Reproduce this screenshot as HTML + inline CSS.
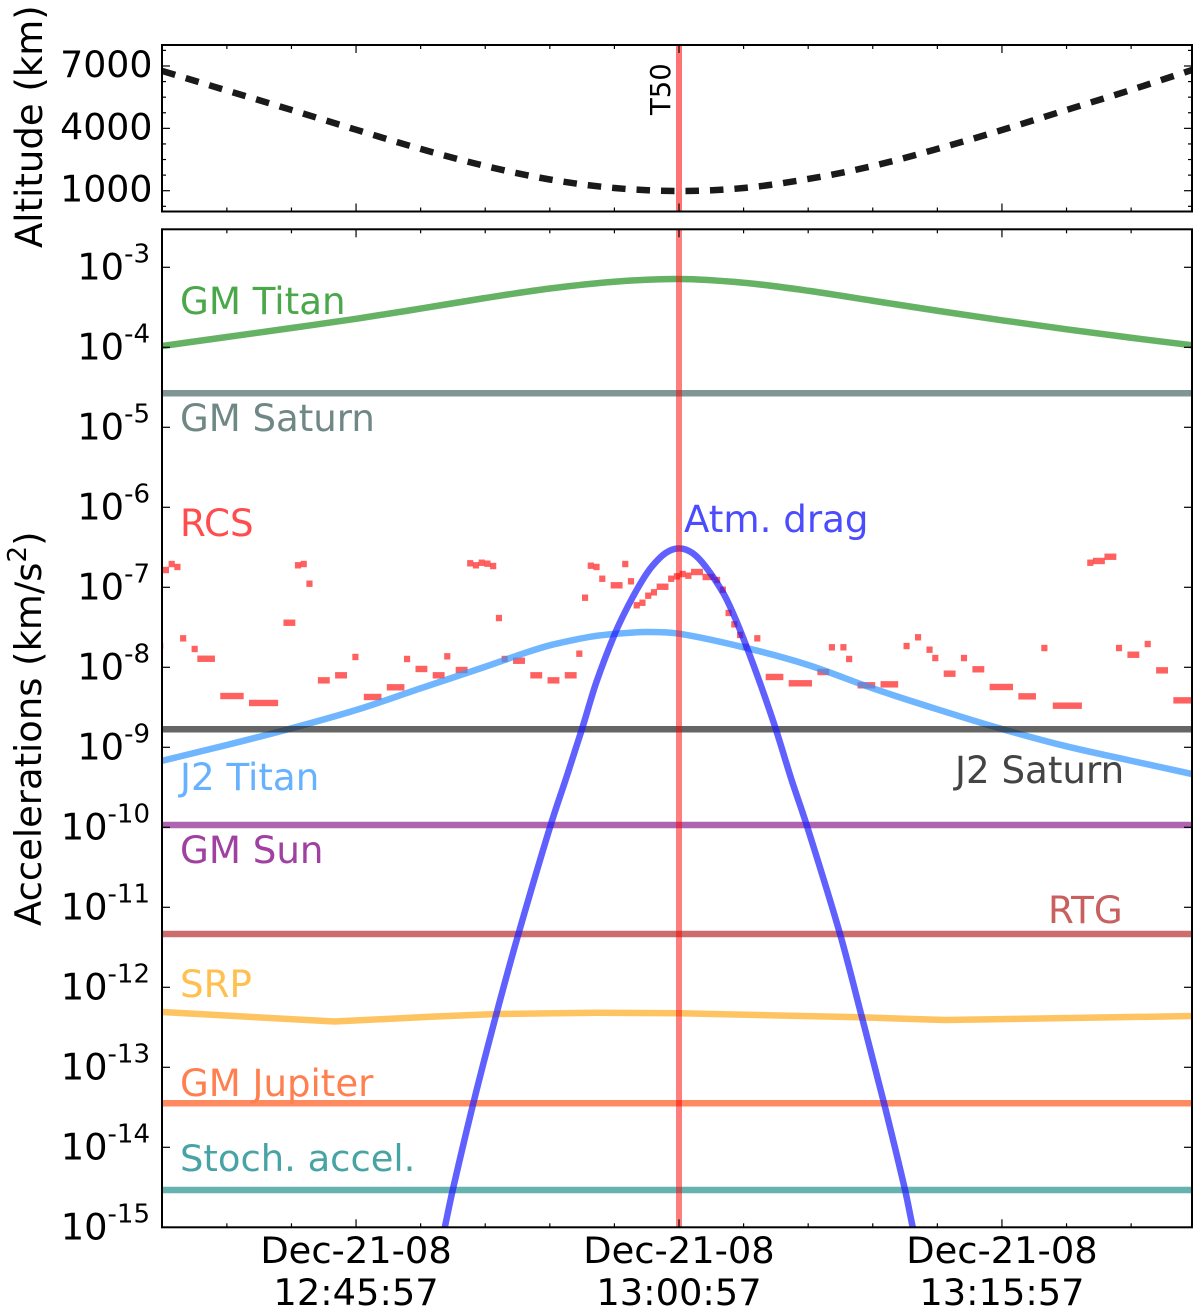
<!DOCTYPE html>
<html lang="en">
<head>
<meta charset="utf-8">
<title>Accelerations during the T50 Titan flyby</title>
<style>
html,body{margin:0;padding:0;background:#fff;}
svg{display:block;font-family:"DejaVu Sans","Liberation Sans",sans-serif;}
</style>
</head>
<body>
<svg id="chart" xmlns="http://www.w3.org/2000/svg" width="1200" height="1314" viewBox="0 0 1200 1314">
  <defs>
    <clipPath id="clip-top"><rect x="162" y="45" width="1030" height="166.5"/></clipPath>
    <clipPath id="clip-main"><rect x="162" y="229.3" width="1030" height="998"/></clipPath>
  </defs>
  <rect x="0" y="0" width="1200" height="1314" fill="#fff"/>
  <g id="top-marks" clip-path="url(#clip-top)"></g>
  <g id="main-marks" clip-path="url(#clip-main)"></g>
  <g id="axes"></g>

  <text transform="translate(670,115) rotate(-90)" font-size="27.5" fill="#000">T50</text>
  <text transform="translate(42,248) rotate(-90)" font-size="37" fill="#000">Altitude (km)</text>
  <text transform="translate(41,926) rotate(-90)" font-size="36.9" fill="#000">Accelerations (km/s<tspan font-size="26" dy="-15">2</tspan><tspan dy="15">)</tspan></text>

  <text x="180" y="314" font-size="37.2" fill="#4aa84a">GM Titan</text>
  <text x="180" y="431" font-size="37.1" fill="#6f8886">GM Saturn</text>
  <text x="180" y="536" font-size="37.2" fill="#ff4c4c">RCS</text>
  <text x="684" y="532" font-size="37.2" fill="#4c4cff">Atm. drag</text>
  <text x="180" y="790" font-size="37.2" fill="#66b2ff">J2 Titan</text>
  <text x="955" y="783" font-size="37.2" fill="#444">J2 Saturn</text>
  <text x="180" y="863" font-size="37.2" fill="#a040a0">GM Sun</text>
  <text x="1048" y="923" font-size="37.2" fill="#c86060">RTG</text>
  <text x="180" y="997" font-size="37.2" fill="#ffc050">SRP</text>
  <text x="180" y="1096" font-size="37.1" fill="#ff7f50">GM Jupiter</text>
  <text x="180" y="1171" font-size="36.9" fill="#48a4a4">Stoch. accel.</text>
</svg>
<script>
// All times are minutes relative to T50 closest approach; accelerations are log10(km/s^2).
const altitudeMinutes = [-24,-21,-18,-15,-12,-9,-6,-3,0,3,6,9,12,15,18,21,23.83];
const altitudeKm = [6760,5820,4885,3935,3010,2190,1540,1130,985,1130,1565,2190,3010,3920,4885,5850,6810];

const curveMinutes = [-24,-21,-18,-15,-12,-9,-6,-3,0,3,6,9,12,15,18,21,23.83];
const gmTitanLog = [-3.984,-3.871,-3.759,-3.644,-3.516,-3.384,-3.265,-3.18,-3.146,-3.193,-3.293,-3.418,-3.543,-3.6625,-3.775,-3.881,-3.975];

const j2TitanMinutes = [-24,-21,-18,-15,-12,-9,-7.07,-6,-4.91,-3.98,-3.02,-1.58,0,3,6,9,12,15,18,21,23.83];
const j2TitanLog = [-9.168,-8.971,-8.763,-8.534,-8.263,-7.993,-7.813,-7.725,-7.659,-7.613,-7.584,-7.559,-7.58,-7.75,-7.971,-8.263,-8.525,-8.771,-8.988,-9.168,-9.334];

const dragMinutes = [-11.2,-10.87,-10.51,-9.55,-8.47,-7.46,-5.96,-5.22,-4.52,-3.84,-2.97,-2.35,-1.73,-1.24,-0.62,0,0.62,1.24,2.06,2.55,3.14,3.84,4.51,5.23,5.93,7.48,8.49,9.52,10.5,10.85,11.2];
const dragLog = [-15.4,-14.99,-14.534,-13.446,-12.321,-11.334,-9.971,-9.368,-8.784,-8.188,-7.575,-7.225,-6.925,-6.734,-6.571,-6.513,-6.571,-6.743,-7.075,-7.35,-7.743,-8.255,-8.784,-9.409,-9.971,-11.334,-12.368,-13.446,-14.534,-14.99,-15.4];

const srpMinutes = [-24,-16,-11.57,-8.47,-3.82,0.05,3.14,8.41,12.35,23.83];
const srpLog = [-12.309,-12.428,-12.368,-12.334,-12.318,-12.325,-12.343,-12.375,-12.409,-12.359];

const gmSaturnLevel = -4.575;
const j2SaturnLevel = -8.775;
const gmSunLevel = -9.971;
const rtgLevel = -11.334;
const gmJupiterLevel = -13.45;
const stochLevel = -14.534;

// RCS: runs of equal 16-second samples (sample number, run length, level)
const rcsStartSample = [-1,0,1,2,3,5,6,10,15,21,23,24,25,27,30,33,35,39,42,44,47,49,51,53,54,55,56,57,58,59,61,64,67,70,72,73,74,75,76,78,80,81,82,83,84,85,86,88,89,90,91,92,94,96,97,98,99,100,101,103,105,109,114,116,118,119,121,125,129,131,133,134,136,139,141,144,149,153,155,161,162,164,166,168,171,173,176];
const rcsRunLength = [1,1,1,1,1,1,3,4,5,2,1,1,1,2,2,1,3,3,1,2,2,1,2,1,1,1,1,1,1,1,2,2,2,2,1,1,1,1,1,2,1,1,1,1,1,1,2,1,1,1,1,2,2,1,1,1,1,1,1,1,3,4,2,1,1,1,3,3,1,1,1,1,2,1,2,4,3,1,5,1,2,2,1,2,1,2,3];
const rcsLog = [-7.734,-6.784,-6.709,-6.746,-7.638,-7.771,-7.893,-8.359,-8.446,-7.443,-6.725,-6.709,-6.955,-8.163,-8.1,-7.871,-8.371,-8.25,-7.896,-8.021,-8.1,-7.863,-8.034,-6.7,-6.725,-6.693,-6.705,-6.734,-7.384,-7.896,-7.918,-8.1,-8.163,-8.1,-7.83,-7.13,-6.73,-6.746,-6.893,-6.975,-6.709,-6.925,-7.225,-7.193,-7.105,-7.063,-6.993,-6.893,-6.863,-6.834,-6.855,-6.809,-6.871,-6.909,-7.03,-7.321,-7.463,-7.596,-7.743,-7.638,-8.121,-8.2,-8.059,-7.75,-7.75,-7.896,-8.225,-8.213,-7.734,-7.625,-7.78,-7.884,-8.08,-7.884,-8.025,-8.246,-8.363,-7.759,-8.48,-6.693,-6.671,-6.618,-7.759,-7.843,-7.709,-8.038,-8.413];

const xTickMinutes = [-15,0,15];
const xTickDates = ['Dec-21-08','Dec-21-08','Dec-21-08'];
const xTickTimes = ['12:45:57','13:00:57','13:15:57'];
const altitudeTicks = [1000,4000,7000];
const accelExponents = [-3,-4,-5,-6,-7,-8,-9,-10,-11,-12,-13,-14,-15];
const t50Minutes = 0;

const SVGNS = 'http://www.w3.org/2000/svg';
const x = m => 679 + 21.53 * m;
const yAlt = km => 211.5 - km * 166.3 / 8000;
const yAcc = lg => 267.3 + (-3 - lg) * 80;

const topLayer = document.getElementById('top-marks');
const mainLayer = document.getElementById('main-marks');
const axesLayer = document.getElementById('axes');

function make(tag, parent, attrs) {
  const el = document.createElementNS(SVGNS, tag);
  for (const k in attrs) el.setAttribute(k, attrs[k]);
  parent.appendChild(el);
  return el;
}
// Hermite spline through the samples, with slopes taken against x so uneven spacing stays smooth.
function smoothPath(px, py) {
  const n = px.length;
  const slope = [];
  for (let i = 0; i < n; i++) {
    const a = Math.max(i - 1, 0), b = Math.min(i + 1, n - 1);
    slope.push((py[b] - py[a]) / (px[b] - px[a]));
  }
  let d = 'M' + px[0].toFixed(2) + ' ' + py[0].toFixed(2);
  for (let i = 0; i < n - 1; i++) {
    const dx = px[i + 1] - px[i];
    const c1x = px[i] + dx / 3, c1y = py[i] + slope[i] * dx / 3;
    const c2x = px[i + 1] - dx / 3, c2y = py[i + 1] - slope[i + 1] * dx / 3;
    d += 'C' + c1x.toFixed(2) + ' ' + c1y.toFixed(2) + ' ' + c2x.toFixed(2) + ' ' + c2y.toFixed(2) + ' ' + px[i + 1].toFixed(2) + ' ' + py[i + 1].toFixed(2);
  }
  return d;
}
function polyPath(px, py) {
  return px.map((v, i) => (i ? 'L' : 'M') + v.toFixed(2) + ' ' + py[i].toFixed(2)).join('');
}
const styleLine = (color, opacity) => ({ fill: 'none', stroke: color, 'stroke-width': 6.5, 'stroke-opacity': opacity });

/* ---------- top panel ---------- */
const altitudeLine = make('path', topLayer, {
  d: smoothPath(altitudeMinutes.map(x), altitudeKm.map(yAlt)),
  fill: 'none', stroke: '#1a1a1a', 'stroke-width': 6.5, 'stroke-dasharray': '13.5 11'
});



const t50Top = make('line', topLayer, { x1: x(t50Minutes), x2: x(t50Minutes), y1: 45, y2: 212, stroke: '#ff0000', 'stroke-width': 6, 'stroke-opacity': 0.55 });



/* ---------- main panel ---------- */
const sampleStep = 16 / 60;
rcsStartSample.forEach((n, i) => {
  const left = x(-23.83 + (n - 0.5) * sampleStep) - 0.2;
  const right = x(-23.83 + (n + rcsRunLength[i] - 0.5) * sampleStep) + 0.2;
  const r = make('rect', mainLayer, { x: left, y: yAcc(rcsLog[i]) - 3.2, width: right - left, height: 6.4, fill: '#ff3333', 'fill-opacity': 0.78 });
  
  
});

const gmTitanLine = make('path', mainLayer, Object.assign({ d: smoothPath(curveMinutes.map(x), gmTitanLog.map(yAcc)) }, styleLine('#249224', 0.7)));



const j2TitanLine = make('path', mainLayer, Object.assign({ d: smoothPath(j2TitanMinutes.map(x), j2TitanLog.map(yAcc)) }, styleLine('#3397ff', 0.7)));



const srpLine = make('path', mainLayer, Object.assign({ d: polyPath(srpMinutes.map(x), srpLog.map(yAcc)) }, styleLine('#ffab1f', 0.7)));



const levelLine = (lg, color) => make('line', mainLayer, { x1: 162, x2: 1192, y1: yAcc(lg), y2: yAcc(lg), stroke: color, 'stroke-width': 6.5, 'stroke-opacity': 0.7 });

const gmSaturnLine = levelLine(gmSaturnLevel, '#486966');


const j2SaturnLine = levelLine(j2SaturnLevel, '#242424');


const gmSunLine = levelLine(gmSunLevel, '#8b228b');


const rtgLine = levelLine(rtgLevel, '#b83131');


const gmJupiterLine = levelLine(gmJupiterLevel, '#ff581c');


const stochLine = levelLine(stochLevel, '#24918e');



const dragLine = make('path', mainLayer, Object.assign({ d: smoothPath(dragMinutes.map(x), dragLog.map(yAcc)) }, styleLine('#1c1cff', 0.7)));



const t50Main = make('line', mainLayer, { x1: x(t50Minutes), x2: x(t50Minutes), y1: 229, y2: 1228, stroke: '#ff0000', 'stroke-width': 6, 'stroke-opacity': 0.5 });



/* ---------- ticks ---------- */
const tickStroke = { stroke: '#000', 'stroke-width': 1.2 };
function xTicksFor(top, bottom) {
  for (let m = -24; m <= 24; m += 3) {
    if (x(m) < 163 || x(m) > 1191) continue;
    const len = xTickMinutes.includes(m) ? 8 : 4;
    const a = make('line', axesLayer, Object.assign({ x1: x(m), x2: x(m), y1: top, y2: top + len }, tickStroke));
    
    
    const b = make('line', axesLayer, Object.assign({ x1: x(m), x2: x(m), y1: bottom, y2: bottom - len }, tickStroke));
    
    
  }
}
xTicksFor(45, 211.5);
xTicksFor(229.3, 1227.3);

for (let km = 0; km <= 8000; km += 750) {
  const v = 250 + km;
  if (v > 7900) continue;
  const len = (v - 1000) % 3000 === 0 ? 8 : 4;
  const a = make('line', axesLayer, Object.assign({ x1: 162, x2: 162 + len, y1: yAlt(v), y2: yAlt(v) }, tickStroke));
  
  
  const b = make('line', axesLayer, Object.assign({ x1: 1192, x2: 1192 - len, y1: yAlt(v), y2: yAlt(v) }, tickStroke));
  
  
}
altitudeTicks.forEach(v => {
  const t = make('text', axesLayer, { x: 152.5, y: yAlt(v) + 11, 'text-anchor': 'end', 'font-size': 36.3, fill: '#000' });
  t.textContent = String(v);
  
  
});

accelExponents.forEach(e => {
  const yy = yAcc(e);
  if (e > -15) {
    const a = make('line', axesLayer, Object.assign({ x1: 162, x2: 170, y1: yy, y2: yy }, tickStroke));
    
    
    const b = make('line', axesLayer, Object.assign({ x1: 1192, x2: 1184, y1: yy, y2: yy }, tickStroke));
    
    
  }
  const t = make('text', axesLayer, { x: 150, y: yy + 12, 'text-anchor': 'end', 'font-size': 36.8, fill: '#000' });
  
  
  const base = make('tspan', t, {});
  base.textContent = '10';
  const sup = make('tspan', t, { 'font-size': 26, dy: -17 });
  sup.textContent = String(e);
});

xTickMinutes.forEach((m, i) => {
  const d = make('text', axesLayer, { x: x(m), y: 1263, 'text-anchor': 'middle', 'font-size': 36.8, fill: '#000' });
  d.textContent = xTickDates[i];
  
  
  const c = make('text', axesLayer, { x: x(m), y: 1305, 'text-anchor': 'middle', 'font-size': 36.8, fill: '#000' });
  c.textContent = xTickTimes[i];
  
  
});

/* ---------- frames ---------- */
const frameTop = make('rect', axesLayer, { x: 162, y: 45, width: 1030, height: 166.5, fill: 'none', stroke: '#000', 'stroke-width': 2 });


const frameMain = make('rect', axesLayer, { x: 162, y: 229.3, width: 1030, height: 998, fill: 'none', stroke: '#000', 'stroke-width': 2 });


</script>
</body>
</html>
